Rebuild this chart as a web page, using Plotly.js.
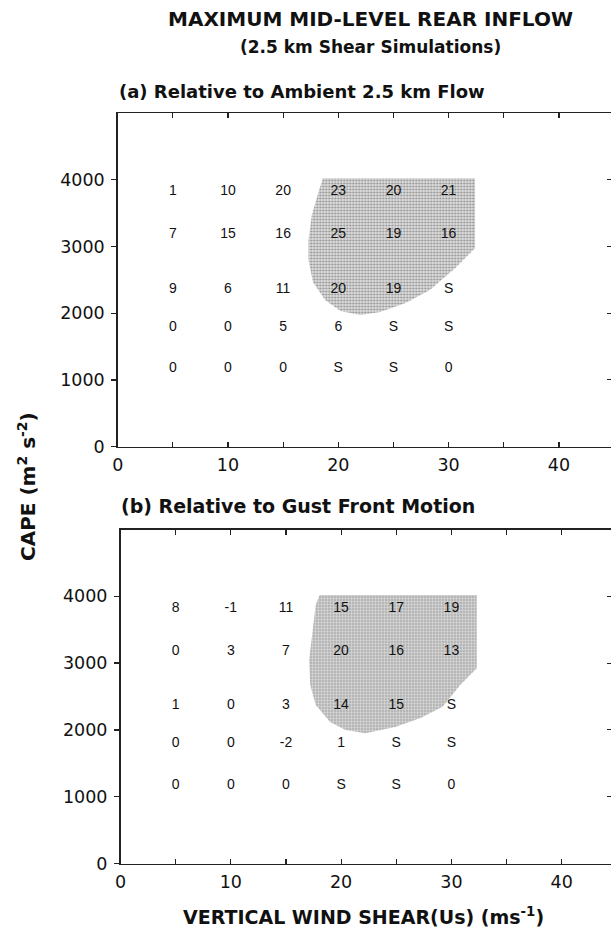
<!DOCTYPE html>
<html>
<head>
<meta charset="utf-8">
<script src="https://cdn.plot.ly/plotly-3.0.1.min.js"></script>
<style>html,body{margin:0;padding:0;background:#fff;}</style>
</head>
<body>
<div id="chart" style="width:611px;height:930px;"></div>
<script>
// ---- data ----
const shearValues = [5, 10, 15, 20, 25, 30];           // m/s
const capeLevels = [3820, 3180, 2360, 1790, 1170];      // row positions (m2 s-2)
const labelsA = [
  ['1', '10', '20', '23', '20', '21'],
  ['7', '15', '16', '25', '19', '16'],
  ['9', '6', '11', '20', '19', 'S'],
  ['0', '0', '5', '6', 'S', 'S'],
  ['0', '0', '0', 'S', 'S', '0']
];
const labelsB = [
  ['8', '-1', '11', '15', '17', '19'],
  ['0', '3', '7', '20', '16', '13'],
  ['1', '0', '3', '14', '15', 'S'],
  ['0', '0', '-2', '1', 'S', 'S'],
  ['0', '0', '0', 'S', 'S', '0']
];
// shaded (strong rear inflow) regions
const shadeAx = [18.6, 32.4, 32.4, 30.6, 28.3, 26.1, 23.8, 22.0, 20.2, 18.8, 17.7, 17.3, 17.3, 17.6, 18.2, 18.6];
const shadeAy = [4022, 4022, 2977, 2677, 2347, 2153, 2018, 1973, 2033, 2198, 2467, 2797, 3097, 3471, 3813, 4022];
const shadeBx = [18.05, 32.3, 32.3, 30.8, 29.2, 27.2, 24.9, 22.2, 20.4, 19.0, 17.7, 17.2, 17.1, 17.4, 17.7, 18.05];
const shadeBy = [4019, 4019, 2922, 2672, 2347, 2178, 2043, 1949, 1999, 2118, 2373, 2672, 3046, 3496, 3870, 4019];
const xTickVals = [0, 10, 20, 30, 40];
const xTickText = ['0', '10', '20', '30', '40'];
const xMinorTickVals = [5, 15, 25, 35];
const yTickVals = [0, 1000, 2000, 3000, 4000];
const yTickText = ['0', '1000', '2000', '3000', '4000'];

// ---- build traces ----
function gridTrace(labels, xa, ya) {
  const xs = [], ys = [], ts = [];
  labels.forEach((row, i) => row.forEach((t, j) => {
    xs.push(shearValues[j]); ys.push(capeLevels[i]); ts.push(t);
  }));
  return {
    type: 'scatter', mode: 'text', x: xs, y: ys, text: ts,
    textposition: 'middle center', xaxis: xa, yaxis: ya,
    textfont: {family: 'Liberation Sans, Arial, sans-serif', size: 14, color: '#111'},
    hoverinfo: 'skip', showlegend: false
  };
}
function shadeTrace(xs, ys, xa, ya) {
  return {
    type: 'scatter', mode: 'lines', x: xs, y: ys, fill: 'toself',
    line: {width: 0, color: 'rgba(0,0,0,0)'},
    fillcolor: 'rgb(205,205,205)',
    fillpattern: {shape: '.', size: 3, solidity: 0.3, fgcolor: '#8a8a8a', bgcolor: '#dcdcdc'},
    xaxis: xa, yaxis: ya, hoverinfo: 'skip', showlegend: false
  };
}
const data = [
  shadeTrace(shadeAx, shadeAy, 'x', 'y'),
  gridTrace(labelsA, 'x', 'y'),
  shadeTrace(shadeBx, shadeBy, 'x2', 'y2'),
  gridTrace(labelsB, 'x2', 'y2'),
  {type: 'scatter', x: [null], y: [null], xaxis: 'x', yaxis: 'y3', showlegend: false, hoverinfo: 'skip'},
  {type: 'scatter', x: [null], y: [null], xaxis: 'x2', yaxis: 'y4', showlegend: false, hoverinfo: 'skip'}
];

const W = 611, H = 930;
const tickFont = {family: 'DejaVu Sans, sans-serif', size: 17.5, color: '#111'};
function xAxis(left, anchor) {
  const xmax = (W - left) / 11.03;
  return {
    domain: [left / W, 1], range: [0, xmax], anchor: anchor,
    tickmode: 'array', tickvals: xTickVals, ticktext: xTickText,
    ticks: 'inside', ticklen: 5, tickwidth: 1.2, tickcolor: '#222',
    minor: {tickmode: 'array', tickvals: xMinorTickVals, ticks: 'inside', ticklen: 5,
            tickwidth: 1.2, tickcolor: '#222', showgrid: false},
    showline: true, linecolor: '#222', linewidth: 1.5, mirror: 'ticks',
    showgrid: false, zeroline: false, tickfont: tickFont, ticklabelstandoff: 2,
    fixedrange: true
  };
}
function yAxis(top, bottom, anchor) {
  return {
    domain: [1 - bottom / H, 1 - top / H], range: [0, 5000], anchor: anchor,
    tickmode: 'array', tickvals: yTickVals, ticktext: yTickText,
    ticks: 'outside', ticklen: 5, tickwidth: 1.2, tickcolor: '#222',
    showline: true, linecolor: '#222', linewidth: 1.5,
    showgrid: false, zeroline: false, tickfont: tickFont, ticklabelstandoff: 3,
    fixedrange: true
  };
}
function yRight(base) {
  return {
    overlaying: base, side: 'right', range: [0, 5000], anchor: base === 'y' ? 'x' : 'x2',
    tickmode: 'array', tickvals: yTickVals, ticks: 'inside', ticklen: 4, tickcolor: '#222',
    showticklabels: false, showline: false, showgrid: false, zeroline: false, fixedrange: true
  };
}

const bold = 'DejaVu Sans, sans-serif';
const layout = {
  width: W, height: H,
  margin: {l: 0, r: 0, t: 0, b: 0},
  paper_bgcolor: '#fff', plot_bgcolor: 'rgba(0,0,0,0)',
  showlegend: false,
  xaxis: xAxis(117.7, 'y'),
  yaxis: yAxis(113, 446.7, 'x'),
  xaxis2: xAxis(120.5, 'y2'),
  yaxis2: yAxis(529.5, 863.5, 'x2'),
  yaxis3: yRight('y'),
  yaxis4: yRight('y2'),
  annotations: [
    {text: '<b>MAXIMUM MID-LEVEL REAR INFLOW</b>', xref: 'paper', yref: 'paper',
     x: 370 / W, y: 1 - 19 / H, xanchor: 'center', yanchor: 'middle', showarrow: false,
     font: {family: bold, size: 20, color: '#111'}},
    {text: '<b>(2.5 km Shear Simulations)</b>', xref: 'paper', yref: 'paper',
     x: 370 / W, y: 1 - 47 / H, xanchor: 'center', yanchor: 'middle', showarrow: false,
     font: {family: bold, size: 17, color: '#111'}},
    {text: '<b>(a) Relative to Ambient 2.5 km Flow</b>', xref: 'paper', yref: 'paper',
     x: 117 / W, y: 1 - 91 / H, xanchor: 'left', yanchor: 'middle', showarrow: false,
     font: {family: bold, size: 18, color: '#111'}},
    {text: '<b>(b) Relative to Gust Front Motion</b>', xref: 'paper', yref: 'paper',
     x: 119 / W, y: 1 - 506 / H, xanchor: 'left', yanchor: 'middle', showarrow: false,
     font: {family: bold, size: 19, color: '#111'}},
    {text: '<b>VERTICAL WIND SHEAR(Us) (ms<sup>-1</sup>)</b>', xref: 'paper', yref: 'paper',
     x: 363 / W, y: 1 - 916 / H, xanchor: 'center', yanchor: 'middle', showarrow: false,
     font: {family: bold, size: 19, color: '#111'}},
    {text: '<b>CAPE (m<sup>2</sup> s<sup>-2</sup>)</b>', xref: 'paper', yref: 'paper',
     x: 27 / W, y: 1 - 487 / H, xanchor: 'center', yanchor: 'middle', showarrow: false,
     textangle: -90, font: {family: bold, size: 20, color: '#111'}}
  ]
};

Plotly.newPlot('chart', data, layout, {staticPlot: true, displayModeBar: false});
</script>
</body>
</html>
